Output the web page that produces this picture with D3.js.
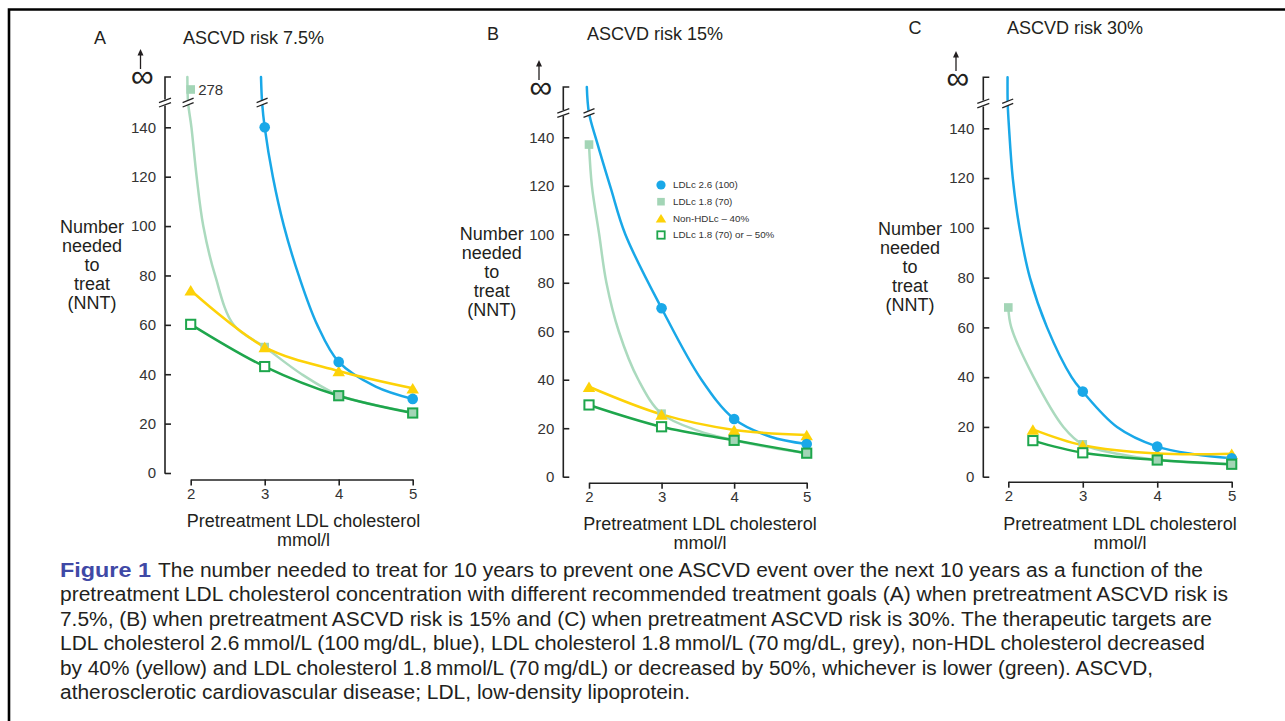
<!DOCTYPE html>
<html><head><meta charset="utf-8">
<script src="https://cdn.jsdelivr.net/npm/d3@7"></script>
<style>
html,body{margin:0;padding:0;background:#fff;}
svg{display:block;}
text{font-family:"Liberation Sans",Arial,Helvetica,sans-serif;}
</style>
</head><body>
<svg id="chart" width="1285" height="721"></svg>
<script>
// ---------------- DATA ----------------
const xTicks = [2, 3, 4, 5];
const yTicks = [0, 20, 40, 60, 80, 100, 120, 140];
const panelLetters = ["A", "B", "C"];
const panelTitles = ["ASCVD risk 7.5%", "ASCVD risk 15%", "ASCVD risk 30%"];
const seriesKeys = ["blue", "grey", "yellow", "green"];
const seriesNames = ["LDLc 2.6 (100)", "LDLc 1.8 (70)", "Non-HDLc \u2013 40%", "LDLc 1.8 (70) or \u2013 50%"];
const xLabelLines = ["Pretreatment LDL cholesterol", "mmol/l"];
const yLabelLines = ["Number", "needed", "to", "treat", "(NNT)"];
const offScaleLabel = "278";

// Marker values: NNT at pretreatment LDL cholesterol (mmol/l)
const blueX_A = [3, 4, 5],        blueY_A = [140, 45, 30];
const greyX_A = [2, 3, 4, 5],     greyY_A = [278, 51, 31.5, 24.5];
const yellowX_A = [2, 3, 4, 5],   yellowY_A = [74, 51, 41.3, 34.3];
const greenX_A = [2, 3, 4, 5],    greenY_A = [60.2, 43.1, 31.3, 24.3];

const blueX_B = [3, 4, 5],        blueY_B = [69.5, 23.8, 13.5];
const greyX_B = [2, 3, 4, 5],     greyY_B = [137, 26, 15, 9.7];
const yellowX_B = [2, 3, 4, 5],   yellowY_B = [37.1, 25.7, 19.3, 17.2];
const greenX_B = [2, 3, 4, 5],    greenY_B = [29.6, 20.6, 15, 9.7];

const blueX_C = [3, 4, 5],        blueY_C = [34.2, 12.1, 7.4];
const greyX_C = [2, 3, 4, 5],     greyY_C = [68, 13, 6.7, 5];
const yellowX_C = [2.33, 3, 4, 5], yellowY_C = [19, 12.6, 9.3, 9.2];
const greenX_C = [2.33, 3, 4, 5],  greenY_C = [14.5, 9.6, 6.7, 5];

// Curve traces (Infinity = top of broken axis)
const blueTraceX_A = [2.95, 2.965, 3, 3.11, 3.26, 3.46, 3.71, 4, 4.5, 5];
const blueTraceY_A = [Infinity, 150, 140, 120, 100, 80, 60, 45, 35, 30];
const greyTraceX_A = [1.955, 1.965, 2.01, 2.08, 2.17, 2.33, 2.58, 3, 3.5, 4, 4.5, 5];
const greyTraceY_A = [Infinity, 150, 140, 120, 100, 80, 60, 51, 40, 31.5, 27.5, 24.5];

const blueTraceX_B = [1.97, 2.0, 2.11, 2.3, 2.5, 3, 3.55, 4, 4.5, 5];
const blueTraceY_B = [Infinity, 150, 138, 119, 100, 69.5, 40, 23.8, 16.5, 13.5];
const greyTraceX_B = [2, 2.04, 2.14, 2.24, 2.41, 2.68, 3, 3.5, 4, 4.5, 5];
const greyTraceY_B = [137, 120, 100, 80, 60, 40, 26, 19, 15, 12, 9.7];

const blueTraceX_C = [1.99, 1.992, 2.01, 2.06, 2.15, 2.29, 2.52, 2.85, 3, 3.46, 4, 4.5, 5];
const blueTraceY_C = [Infinity, 150, 140, 120, 100, 80, 60, 40, 34.2, 20, 12.1, 9, 7.4];
const greyTraceX_C = [2, 2.04, 2.34, 2.74, 3, 3.5, 4, 5];
const greyTraceY_C = [68, 60, 40, 20, 13, 9, 6.7, 5];

const captionLabel = "Figure 1";
const captionLines = [
  "The number needed to treat for 10 years to prevent one ASCVD event over the next 10 years as a function of the",
  "pretreatment LDL cholesterol concentration with different recommended treatment goals (A) when pretreatment ASCVD risk is",
  "7.5%, (B) when pretreatment ASCVD risk is 15% and (C) when pretreatment ASCVD risk is 30%. The therapeutic targets are",
  "LDL cholesterol 2.6\u2009mmol/L (100\u2009mg/dL, blue), LDL cholesterol 1.8\u2009mmol/L (70\u2009mg/dL, grey), non-HDL cholesterol decreased",
  "by 40% (yellow) and LDL cholesterol 1.8\u2009mmol/L (70\u2009mg/dL) or decreased by 50%, whichever is lower (green). ASCVD,",
  "atherosclerotic cardiovascular disease; LDL, low-density lipoprotein."
];

// ---------------- STYLE / LAYOUT ----------------
const colors = { blue: "#19a8e8", grey: "#abdabe", yellow: "#fdd208", green: "#1ea64c" };
const greyMarker = "#a3d5b6";
const axisColor = "#222";
const textColor = "#231f20";

const layout = [
  { axisX: 165,   y0: 473,   y140: 127.3, yTop: 77,   xAxisY: 479.5, x2: 190.7,  x5: 412.7,
    letter: [100, 43.5], title: [183, 43.5], inf: [142.5, 77], ylab: [92, 233], xlab: [303.5, 526.5] },
  { axisX: 563.3, y0: 476.7, y140: 137.3, yTop: 87,   xAxisY: 482.7, x2: 589,    x5: 806.7,
    letter: [493, 39.5], title: [587, 39.5], inf: [541, 88], ylab: [491.7, 239.5], xlab: [700, 529.5] },
  { axisX: 983.3, y0: 476.7, y140: 128.3, yTop: 77.3, xAxisY: 481.7, x2: 1008.3, x5: 1231.7,
    letter: [915, 33.5], title: [1007, 33.5], inf: [958, 79], ylab: [910, 235], xlab: [1120, 529.5] }
];

const zip = (xs, ys) => xs.map((x, i) => [x, ys[i]]);
const panelData = [
  { markers: { blue: zip(blueX_A, blueY_A), grey: zip(greyX_A, greyY_A), yellow: zip(yellowX_A, yellowY_A), green: zip(greenX_A, greenY_A) },
    traces:  { blue: zip(blueTraceX_A, blueTraceY_A), grey: zip(greyTraceX_A, greyTraceY_A), yellow: zip(yellowX_A, yellowY_A), green: zip(greenX_A, greenY_A) } },
  { markers: { blue: zip(blueX_B, blueY_B), grey: zip(greyX_B, greyY_B), yellow: zip(yellowX_B, yellowY_B), green: zip(greenX_B, greenY_B) },
    traces:  { blue: zip(blueTraceX_B, blueTraceY_B), grey: zip(greyTraceX_B, greyTraceY_B), yellow: zip(yellowX_B, yellowY_B), green: zip(greenX_B, greenY_B) } },
  { markers: { blue: zip(blueX_C, blueY_C), grey: zip(greyX_C, greyY_C), yellow: zip(yellowX_C, yellowY_C), green: zip(greenX_C, greenY_C) },
    traces:  { blue: zip(blueTraceX_C, blueTraceY_C), grey: zip(greyTraceX_C, greyTraceY_C), yellow: zip(yellowX_C, yellowY_C), green: zip(greenX_C, greenY_C) } }
];

// ---------------- DRAW ----------------
const svg = d3.select("#chart");

// frame
svg.append("path").attr("d", "M9,721 L9,9.5 L1285,9.5")
  .attr("fill", "none").attr("stroke", "#000").attr("stroke-width", 2.6);

function breakMark(g, cx, cy, w) {
  w = w || 6;
  g.append("path")
    .attr("d", `M${cx - w},${cy + 4.5} L${cx + w},${cy + 0.5} L${cx + w},${cy - 4.5} L${cx - w},${cy - 0.5} Z`)
    .attr("fill", "#fff");
  [2.2, -2.2].forEach(o => {
    g.append("line")
      .attr("x1", cx - w).attr("y1", cy + o + 2.2)
      .attr("x2", cx + w).attr("y2", cy + o - 2.2)
      .attr("stroke", axisColor).attr("stroke-width", 1.3);
  });
}

function trianglePath(cx, cy, w, h) {
  return `M${cx},${cy - h / 2} L${cx + w / 2},${cy + h / 2} L${cx - w / 2},${cy + h / 2} Z`;
}

layout.forEach((L, p) => {
  const g = svg.append("g");
  const D = panelData[p];
  const x = d3.scaleLinear().domain([2, 5]).range([L.x2, L.x5]);
  const yLow = d3.scaleLinear().domain([0, 140]).range([L.y0, L.y140]);
  const yBrk = yLow(150);
  const y = d3.scaleLinear().domain([0, 150, 400]).range([L.y0, yBrk, L.yTop]).clamp(true);

  // titles
  g.append("text").attr("x", L.letter[0]).attr("y", L.letter[1]).attr("text-anchor", "middle")
    .attr("font-size", 18).attr("fill", textColor).text(panelLetters[p]);
  g.append("text").attr("x", L.title[0]).attr("y", L.title[1])
    .attr("font-size", 18).attr("fill", textColor).text(panelTitles[p]);

  // y label
  const yl = g.append("text").attr("text-anchor", "middle").attr("font-size", 18).attr("fill", textColor);
  yLabelLines.forEach((t, i) => yl.append("tspan").attr("x", L.ylab[0]).attr("y", L.ylab[1] + i * 19).text(t));
  // x label
  const xl = g.append("text").attr("text-anchor", "middle").attr("font-size", 18).attr("fill", textColor);
  xLabelLines.forEach((t, i) => xl.append("tspan").attr("x", L.xlab[0]).attr("y", L.xlab[1] + i * 19.5).text(t));

  // y axis (ticks inward)
  const yAxis = d3.axisLeft(d3.scaleLinear().domain([0, 150]).range([L.y0, yBrk]))
    .tickValues(yTicks).tickSizeInner(-6).tickSizeOuter(0).tickPadding(9);
  const ya = g.append("g").attr("transform", `translate(${L.axisX},0)`).call(yAxis);
  ya.select(".domain").remove();
  ya.selectAll("line").attr("stroke", axisColor).attr("stroke-width", 1.6);
  ya.selectAll("text").attr("font-size", 15).attr("fill", "#333")
    .attr("font-family", "Liberation Sans, Arial, sans-serif");
  g.append("path")
    .attr("d", `M${L.axisX},${L.y0 + 0.8} L${L.axisX},${yBrk + 3} M${L.axisX},${yBrk - 3} L${L.axisX},${L.yTop} L${L.axisX + 6},${L.yTop}`)
    .attr("fill", "none").attr("stroke", axisColor).attr("stroke-width", 1.6);
  breakMark(g, L.axisX, yBrk, 6);

  // infinity and arrow
  g.append("text").attr("x", L.inf[0]).attr("y", L.inf[1] + 10).attr("text-anchor", "middle")
    .attr("font-size", 32).attr("fill", textColor).text("\u221E");
  const ax = L.inf[0] - 2;
  g.append("line").attr("x1", ax).attr("x2", ax).attr("y1", L.inf[1] - 8).attr("y2", L.inf[1] - 25)
    .attr("stroke", textColor).attr("stroke-width", 1.3);
  g.append("path").attr("d", `M${ax - 3},${L.inf[1] - 21.5} L${ax},${L.inf[1] - 28} L${ax + 3},${L.inf[1] - 21.5} Z`)
    .attr("fill", textColor);

  // x axis
  const xAxis = d3.axisBottom(x).tickValues(xTicks).tickSizeInner(6).tickSizeOuter(0).tickPadding(3)
    .tickFormat(d3.format("d"));
  const xa = g.append("g").attr("transform", `translate(0,${L.xAxisY})`).call(xAxis);
  xa.select(".domain").attr("stroke", axisColor).attr("stroke-width", 1.6);
  xa.selectAll("line").attr("stroke", axisColor).attr("stroke-width", 1.6);
  xa.selectAll("text").attr("font-size", 15).attr("fill", "#333")
    .attr("font-family", "Liberation Sans, Arial, sans-serif");

  // curves
  const line = d3.line().x(d => x(d[0])).y(d => y(d[1])).curve(d3.curveCatmullRom.alpha(0.5));
  ["grey", "blue", "yellow", "green"].forEach(k => {
    g.append("path").datum(D.traces[k]).attr("d", line)
      .attr("fill", "none").attr("stroke", colors[k]).attr("stroke-width", 2.5)
      .attr("stroke-linecap", "round");
  });
  // break marks on curves crossing the axis break
  ["grey", "blue"].forEach(k => {
    D.traces[k].forEach((d, i) => {
      if (d[1] === 150 && i > 0 && D.traces[k][i - 1][1] === Infinity) breakMark(g, x(d[0]), yBrk, 5.5);
    });
  });

  // markers
  D.markers.grey.forEach(d => {
    g.append("rect").attr("x", x(d[0]) - 4.3).attr("y", y(d[1]) - 4.3).attr("width", 8.6).attr("height", 8.6)
      .attr("fill", greyMarker);
    if (d[1] > 150) {
      g.append("text").attr("x", x(d[0]) + 7.5).attr("y", y(d[1]) + 5.5).attr("font-size", 15)
        .attr("fill", "#333").text(offScaleLabel);
    }
  });
  D.markers.yellow.forEach(d => {
    g.append("path").attr("d", trianglePath(x(d[0]), y(d[1]), 12.5, 10.5)).attr("fill", colors.yellow);
  });
  D.markers.blue.forEach(d => {
    g.append("circle").attr("cx", x(d[0])).attr("cy", y(d[1])).attr("r", 5.3).attr("fill", colors.blue);
  });
  D.markers.green.forEach(d => {
    const shared = D.markers.grey.some(q => q[0] === d[0] && Math.abs(q[1] - d[1]) < 1.5);
    g.append("rect").attr("x", x(d[0]) - 4.6).attr("y", y(d[1]) - 4.6).attr("width", 9.2).attr("height", 9.2)
      .attr("fill", shared ? greyMarker : "#fff").attr("stroke", colors.green).attr("stroke-width", 2);
  });

  // legend in panel B
  if (p === 1) {
    const lx = 661, ly = [185, 201.7, 218.3, 235];
    const lg = g.append("g");
    seriesKeys.forEach((k, i) => {
      if (k === "blue") lg.append("circle").attr("cx", lx).attr("cy", ly[i]).attr("r", 4.6).attr("fill", colors.blue);
      if (k === "grey") lg.append("rect").attr("x", lx - 3.8).attr("y", ly[i] - 3.8).attr("width", 7.6).attr("height", 7.6).attr("fill", greyMarker);
      if (k === "yellow") lg.append("path").attr("d", trianglePath(lx, ly[i], 10.5, 8.5)).attr("fill", colors.yellow);
      if (k === "green") lg.append("rect").attr("x", lx - 3.7).attr("y", ly[i] - 3.7).attr("width", 7.4).attr("height", 7.4)
        .attr("fill", "#fff").attr("stroke", colors.green).attr("stroke-width", 1.8);
      lg.append("text").attr("x", 673).attr("y", ly[i] + 3.4).attr("font-size", 9.8).attr("fill", "#333")
        .text(seriesNames[i]);
    });
  }
});

// caption
const capStart = [158, 60, 60, 60, 60, 60];
const capEnd = [1203, 1228, 1212, 1205, 1153, 690];
svg.append("text").attr("x", 60).attr("y", 577).attr("font-size", 19.5).attr("font-weight", "bold")
  .attr("fill", "#3f49a6").attr("textLength", 91).attr("lengthAdjust", "spacingAndGlyphs").text(captionLabel);
captionLines.forEach((t, i) => {
  svg.append("text").attr("x", capStart[i]).attr("y", 577 + i * 24.4).attr("font-size", 19.5)
    .attr("fill", textColor).attr("textLength", capEnd[i] - capStart[i]).attr("lengthAdjust", "spacingAndGlyphs")
    .text(t);
});
</script>
</body></html>
